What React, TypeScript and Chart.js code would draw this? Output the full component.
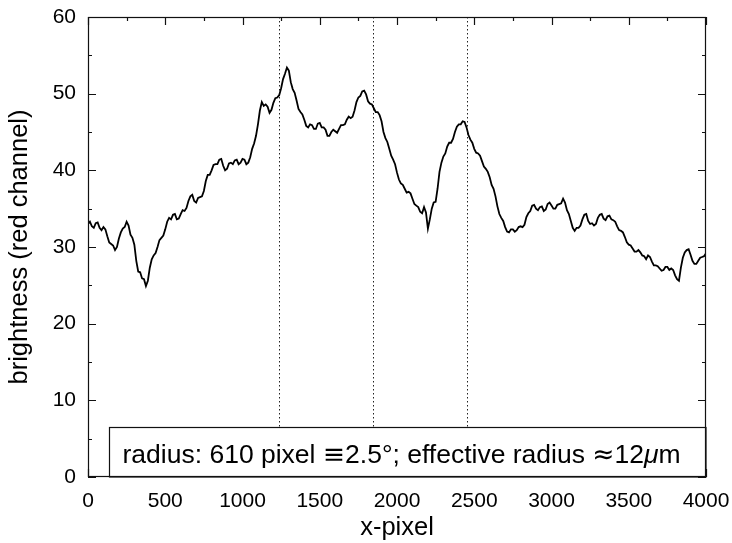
import React, { useEffect, useRef } from "react";
import { Chart, registerables } from "chart.js";

Chart.register(...registerables);

// x-pixel positions of the main samples
const xPixel = [
  0, 25, 50, 75, 100, 125, 150, 175, 200, 225, 250, 275, 300, 325, 350, 375, 400, 425, 450, 475,
  500, 525, 550, 575, 600, 625, 650, 675, 700, 725, 750, 775, 800, 825, 850, 875, 900, 925, 950, 975,
  1000, 1025, 1050, 1075, 1100, 1125, 1150, 1175, 1200, 1225, 1250, 1275, 1300, 1325, 1350, 1375, 1400, 1425, 1450, 1475,
  1500, 1525, 1550, 1575, 1600, 1625, 1650, 1675, 1700, 1725, 1750, 1775, 1800, 1825, 1850, 1875, 1900, 1925, 1950, 1975,
  2000, 2025, 2050, 2075, 2100, 2125, 2150, 2175, 2200, 2225, 2250, 2275, 2300, 2325, 2350, 2375, 2400, 2425, 2450, 2475,
  2500, 2525, 2550, 2575, 2600, 2625, 2650, 2675, 2700, 2725, 2750, 2775, 2800, 2825, 2850, 2875, 2900, 2925, 2950, 2975,
  3000, 3025, 3050, 3075, 3100, 3125, 3150, 3175, 3200, 3225, 3250, 3275, 3300, 3325, 3350, 3375, 3400, 3425, 3450, 3475,
  3500, 3525, 3550, 3575, 3600, 3625, 3650, 3675, 3700, 3725, 3750, 3775, 3800, 3825, 3850, 3875, 3900, 3925, 3950, 3975,
  4000,
];

// brightness (red channel) at the main samples
const brightness = [
  33.0, 32.7, 33.1, 32.5, 32.6, 31.4, 30.4, 29.6, 31.1, 32.4, 33.3, 31.6, 30.3, 26.8, 25.9, 24.9, 27.3, 28.9, 30.0, 31.2,
  32.3, 33.8, 34.2, 33.6, 34.3, 34.7, 36.0, 36.8, 35.8, 36.5, 37.3, 39.4, 40.0, 40.8, 41.4, 40.6, 40.2, 41.0, 41.3, 40.8,
  41.5, 40.8, 41.7, 43.5, 46.0, 48.9, 48.6, 47.5, 48.8, 49.5, 50.7, 52.6, 53.0, 50.6, 49.1, 47.6, 46.6, 45.6, 45.9, 45.4,
  46.2, 45.6, 44.5, 45.0, 45.1, 45.4, 45.9, 46.6, 46.8, 47.8, 49.5, 50.3, 49.9, 48.7, 48.1, 47.6, 46.4, 44.2, 42.8, 41.4,
  39.7, 38.3, 37.6, 37.2, 36.3, 35.4, 34.6, 35.2, 32.4, 35.0, 35.9, 39.8, 41.8, 43.1, 43.6, 45.0, 46.0, 46.4, 45.6, 44.0,
  42.8, 42.2, 41.2, 40.2, 39.1, 37.6, 35.3, 33.8, 32.6, 31.9, 32.3, 32.2, 32.7, 32.9, 34.4, 35.4, 35.0, 35.2, 34.7, 35.6,
  35.4, 35.0, 35.6, 36.3, 34.8, 33.4, 32.1, 32.5, 33.6, 34.3, 33.0, 32.8, 33.8, 34.3, 33.5, 34.1, 33.5, 32.7, 32.1, 31.3,
  30.3, 29.8, 29.4, 29.3, 28.8, 28.9, 28.1, 27.6, 27.2, 27.0, 27.4, 27.2, 26.3, 25.6, 28.6, 29.6, 29.0, 27.8, 28.2, 28.7,
  29.2,
];

// brightness halfway between consecutive main samples (the fine jitter of the trace)
const brightnessMid = [
  33.3, 32.5, 33.2, 32.2, 32.3, 30.6, 30.2, 30.0, 31.9, 32.6, 32.8, 31.2, 28.2, 26.7, 25.8, 25.6, 28.4, 29.2, 30.9, 31.5,
  33.3, 33.6, 34.3, 33.7, 34.8, 35.1, 36.6, 36.0, 36.4, 36.6, 38.6, 39.4, 40.7, 40.8, 41.5, 40.0, 40.9, 40.8, 41.4, 41.0,
  41.4, 41.0, 42.8, 44.5, 47.8, 48.4, 48.3, 47.9, 49.4, 49.8, 51.9, 53.4, 51.5, 50.1, 48.0, 47.3, 45.8, 46.0, 45.4, 46.1,
  45.6, 45.3, 44.5, 45.3, 44.9, 45.9, 46.0, 47.0, 47.0, 48.9, 49.7, 50.4, 49.0, 48.6, 47.6, 47.2, 45.0, 43.7, 41.9, 40.8,
  38.8, 38.1, 37.1, 37.0, 35.6, 35.2, 34.4, 34.5, 33.6, 35.8, 37.6, 41.0, 42.2, 43.6, 44.1, 45.7, 46.0, 46.3, 44.6, 43.6,
  42.3, 41.9, 40.5, 39.8, 38.1, 36.6, 34.3, 33.4, 32.0, 32.3, 32.0, 32.6, 32.6, 33.9, 34.7, 35.5, 34.8, 35.3, 34.9, 35.8,
  35.0, 35.5, 35.7, 35.8, 34.3, 32.5, 32.5, 32.8, 34.2, 33.4, 33.1, 33.0, 34.2, 33.7, 34.0, 33.6, 33.3, 32.2, 31.9, 30.6,
  30.2, 29.4, 29.6, 28.9, 28.4, 28.7, 27.6, 27.5, 26.9, 27.4, 27.0, 27.0, 25.8, 27.3, 29.3, 29.7, 28.2, 27.8, 28.6, 28.8,
];

const markerXs = [1235, 1845, 2455];
const xTickValues = [0, 500, 1000, 1500, 2000, 2500, 3000, 3500, 4000];
const yTickValues = [0, 10, 20, 30, 40, 50, 60];
const xTitle = "x-pixel";
const yTitle = "brightness (red channel)";
const legendParts: [string, string][] = [
  ["radius: 610 pixel ", "sans"],
  ["\u2261", "sym"],
  ["2.5\u00b0; effective radius ", "sans"],
  ["\u2248", "sym"],
  ["12", "sans"],
  ["\u03bc", "italic"],
  ["m", "sans"],
];

const FONT = "'Liberation Sans', Arial, Helvetica, sans-serif";
const SYMFONT = "'DejaVu Sans', sans-serif";
const TITLE_SIZE = 25.5;
const LEGEND_SIZE = 26.5;

const decorPlugin = {
  id: "decor",
  beforeDatasetsDraw(chart: any) {
    const { ctx, chartArea: a, scales } = chart;
    ctx.save();
    ctx.strokeStyle = "#222";
    ctx.lineWidth = 1;
    ctx.setLineDash([1.5, 2.5]);
    markerXs.forEach((v) => {
      const px = Math.round(scales.x.getPixelForValue(v)) + 0.5;
      ctx.beginPath();
      ctx.moveTo(px, a.top);
      ctx.lineTo(px, a.bottom);
      ctx.stroke();
    });
    ctx.restore();
  },
  afterDatasetsDraw(chart: any) {
    const { ctx, chartArea: a, scales } = chart;
    ctx.save();
    ctx.strokeStyle = "#111";
    ctx.lineWidth = 1.2;
    for (let v = 0; v <= 4000; v += 250) {
      const px = Math.round(scales.x.getPixelForValue(v)) + 0.5;
      const len = v % 500 === 0 ? 8 : 4;
      ctx.beginPath();
      ctx.moveTo(px, a.bottom);
      ctx.lineTo(px, a.bottom - len);
      ctx.moveTo(px, a.top);
      ctx.lineTo(px, a.top + len);
      ctx.stroke();
    }
    for (let v = 0; v <= 60; v += 5) {
      const py = Math.round(scales.y.getPixelForValue(v)) + 0.5;
      const len = v % 10 === 0 ? 8 : 4;
      ctx.beginPath();
      ctx.moveTo(a.left, py);
      ctx.lineTo(a.left + len, py);
      ctx.moveTo(a.right, py);
      ctx.lineTo(a.right - len, py);
      ctx.stroke();
    }
    // legend box
    const bx = a.left + 21.5;
    const by = a.bottom - 49.5;
    ctx.fillStyle = "#fff";
    ctx.fillRect(bx, by, a.right - bx, a.bottom - by);
    ctx.strokeRect(bx, by, a.right - bx, a.bottom - by);
    // frame
    ctx.strokeRect(a.left + 0.5, a.top + 0.5, a.right - a.left - 1, a.bottom - a.top - 1);
    // legend text
    ctx.fillStyle = "#000";
    ctx.textBaseline = "alphabetic";
    ctx.textAlign = "left";
    let tx = bx + 13;
    const ty = a.bottom - 14;
    legendParts.forEach(([t, kind]) => {
      ctx.font =
        kind === "sym"
          ? `${LEGEND_SIZE}px ${SYMFONT}`
          : kind === "italic"
          ? `italic ${LEGEND_SIZE}px ${FONT}`
          : `${LEGEND_SIZE}px ${FONT}`;
      ctx.fillText(t, tx, ty);
      tx += ctx.measureText(t).width;
    });
    // axis titles
    ctx.font = `${TITLE_SIZE}px ${FONT}`;
    ctx.textAlign = "center";
    ctx.textBaseline = "alphabetic";
    ctx.fillText(xTitle, (a.left + a.right) / 2, 535);
    ctx.translate(27, (a.top + a.bottom) / 2);
    ctx.rotate(-Math.PI / 2);
    ctx.fillText(yTitle, 0, 0);
    ctx.restore();
  },
};

export default function App() {
  const ref = useRef<HTMLCanvasElement | null>(null);
  useEffect(() => {
    if (!ref.current) return;
    const points: { x: number; y: number }[] = [];
    xPixel.forEach((x, i) => {
      points.push({ x, y: brightness[i] });
      if (i < brightnessMid.length) {
        points.push({ x: (x + xPixel[i + 1]) / 2, y: brightnessMid[i] });
      }
    });
    const chart = new Chart(ref.current, {
      type: "line",
      data: {
        datasets: [
          {
            data: points,
            borderColor: "#000",
            borderWidth: 1.8,
            pointRadius: 0,
            tension: 0,
            fill: false,
          },
        ],
      },
      options: {
        responsive: false,
        animation: false,
        events: [],
        layout: { padding: { left: 0, top: 17, right: 26, bottom: 0 } },
        plugins: { legend: { display: false }, tooltip: { enabled: false } },
        scales: {
          x: {
            type: "linear",
            min: 0,
            max: 4000,
            afterFit: (s: any) => {
              s.height = 66;
              s.paddingLeft = 0;
              s.paddingRight = 0;
            },
            afterBuildTicks: (s: any) => {
              s.ticks = xTickValues.map((v) => ({ value: v }));
            },
            grid: { display: false, tickLength: 0 },
            border: { display: false },
            ticks: {
              color: "#000",
              padding: 12,
              maxRotation: 0,
              autoSkip: false,
              font: { size: 21, family: FONT },
              callback: (v: any) => String(v),
            },
          },
          y: {
            type: "linear",
            min: 0,
            max: 60,
            afterFit: (s: any) => {
              s.width = 88;
              s.paddingTop = 0;
              s.paddingBottom = 0;
            },
            afterBuildTicks: (s: any) => {
              s.ticks = yTickValues.map((v) => ({ value: v }));
            },
            grid: { display: false, tickLength: 0 },
            border: { display: false },
            ticks: {
              color: "#000",
              padding: 12,
              font: { size: 21, family: FONT },
              callback: (v: any) => String(v),
            },
          },
        },
      },
      plugins: [decorPlugin],
    });
    return () => chart.destroy();
  }, []);
  return (
    <div style={{ position: "absolute", left: 0, top: 0, width: 732, height: 543, background: "#fff" }}>
      <canvas ref={ref} width={732} height={543} />
    </div>
  );
}
